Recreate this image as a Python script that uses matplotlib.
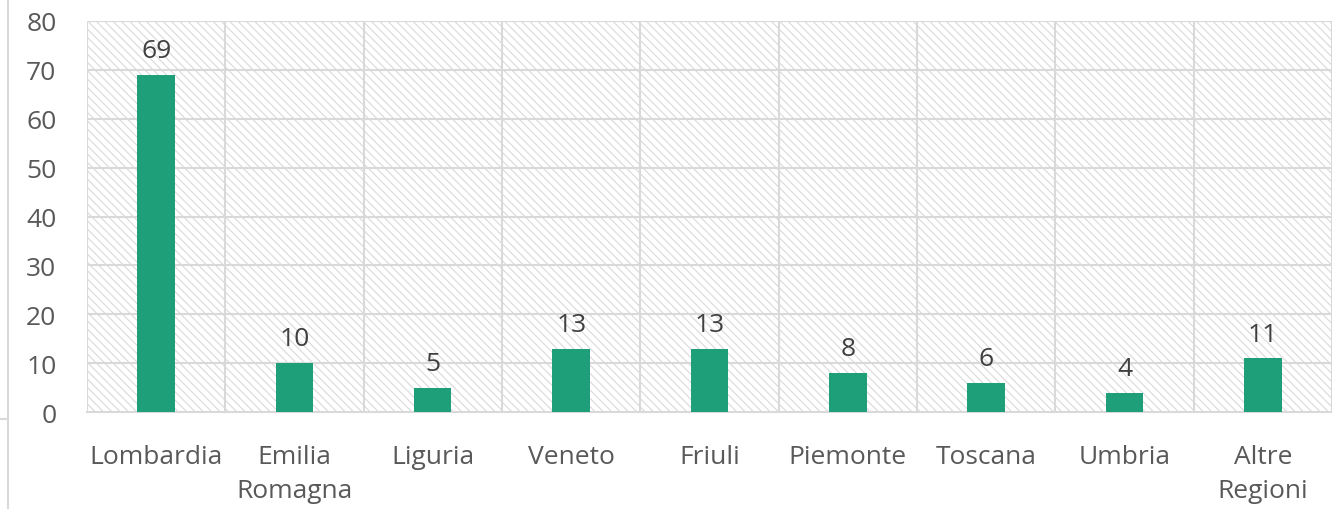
import numpy as np
import matplotlib.pyplot as plt
from matplotlib.patches import Rectangle
from matplotlib.lines import Line2D

regioni = ["Lombardia", "Emilia\nRomagna", "Liguria", "Veneto", "Friuli",
           "Piemonte", "Toscana", "Umbria", "Altre\nRegioni"]
valori = [69, 10, 5, 13, 13, 8, 6, 4, 11]

plt.rcParams['font.family'] = ['Open Sans', 'DejaVu Sans']
plt.rcParams['hatch.color'] = '#d9d9d9'
plt.rcParams['hatch.linewidth'] = 0.8

fig = plt.figure(figsize=(13.32, 5.10), dpi=100)
ax = fig.add_axes([0.0653, 0.190, 0.9347, 0.767])

# sfondo tratteggiato
ax.add_patch(Rectangle((0, 0), 1, 1, transform=ax.transAxes, facecolor='white',
                       edgecolor='#d9d9d9', hatch='\\\\\\\\', linewidth=0, zorder=0))

x = np.arange(len(regioni))
ax.bar(x, valori, width=0.27, color='#1f9e7a', zorder=3)
for xi, v in zip(x, valori):
    ax.text(xi, v + 2.4, str(v), ha='center', va='bottom', fontsize=19, color='#404040')

ax.set_xlim(-0.5, len(regioni) - 0.5)
ax.set_ylim(0, 80)
ax.set_yticks(range(0, 81, 10))
ax.set_xticks(x)
ax.set_xticklabels(regioni, fontsize=19, color='#595959', linespacing=1.45, va='top')
ax.tick_params(axis='y', labelsize=19, labelcolor='#595959', length=0, pad=22)
ax.tick_params(axis='x', length=0, pad=23)

for v in range(10, 81, 10):
    ax.axhline(v, color='#d9d9d9', lw=1.5, zorder=1)
for b in np.arange(-0.5, len(regioni), 1.0):
    ax.axvline(b, color='#d9d9d9', lw=1.5, zorder=1)

for s in ['top', 'right', 'left']:
    ax.spines[s].set_visible(False)
ax.spines['bottom'].set_color('#d9d9d9')
ax.spines['bottom'].set_linewidth(1.5)

fig.add_artist(Line2D([8 / 1332, 8 / 1332], [0, 1], color='#d9d9d9', lw=1.5))
fig.add_artist(Line2D([0, 8 / 1332], [1 - 420 / 510, 1 - 420 / 510], color='#d9d9d9', lw=1.5))

plt.savefig('out.png', dpi=100)
